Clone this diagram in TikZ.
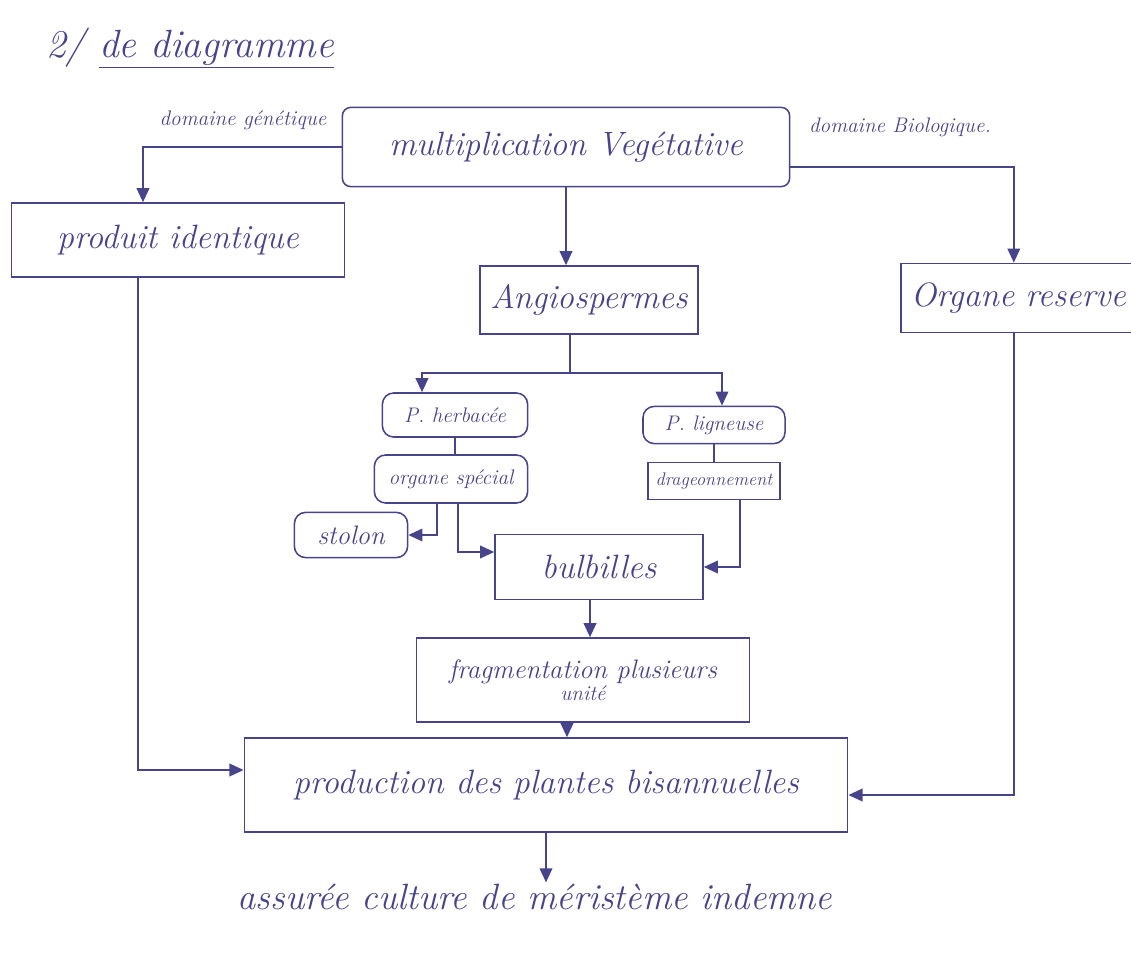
\documentclass[tikz,border=0pt]{standalone}
\usepackage{fontspec}
\usetikzlibrary{arrows.meta,calc}
\definecolor{ink}{RGB}{72,68,140}
\tikzset{
  trait/.style={draw=ink, line width=1.1pt},
  fleche/.style={trait, -{Triangle[length=10pt,width=9pt]}},
  boite/.style={trait, rectangle, inner sep=2pt, text=ink},
  bulle/.style={boite, rounded corners=8pt},
  ecrit/.style={text=ink, inner sep=1pt},
  gros/.style={font=\fontsize{24}{28}\selectfont\itshape},
  moyen/.style={font=\fontsize{19}{22}\selectfont\itshape},
  petit/.style={font=\fontsize{15}{18}\selectfont\itshape},
}
\begin{document}
\begin{tikzpicture}[x=0.025cm, y=-0.025cm] % 1 unit = 1 px of the scan
\useasboundingbox (0,0) rectangle (1131,979);
\clip (0,0) rectangle (1131,979);
% titre
\node[ecrit, font=\fontsize{28}{32}\selectfont\itshape] (titre) at (190,48) {2/ \underline{de diagramme}};
% boites
\node[boite, gros, rounded corners=6pt, minimum width=11.18cm, minimum height=1.98cm] (mv) at (566,147) {multiplication Vegétative};
\node[boite, gros, minimum width=8.33cm, minimum height=1.85cm] (pi) at (178,240) {produit identique};
\node[boite, gros, anchor=west, text width=6cm, inner xsep=0.25cm, minimum height=1.73cm, align=left] (org) at (900,298) {Organe reserve};
\node[boite, gros, minimum width=5.45cm, minimum height=1.7cm] (an) at (589,300) {Angiospermes};
\node[bulle, petit, minimum width=3.63cm, minimum height=1.1cm] (ph) at (455,415) {P. herbacée};
\node[bulle, petit, minimum width=3.55cm, minimum height=0.93cm] (pl) at (714,425) {P. ligneuse};
\node[bulle, petit, minimum width=3.83cm, minimum height=1.2cm] (os) at (451,479) {organe spécial};
\node[boite, font=\fontsize{13}{15}\selectfont\itshape, minimum width=3.3cm, minimum height=0.93cm] (dr) at (714,481) {drageonnement};
\node[bulle, moyen, minimum width=2.83cm, minimum height=1.13cm] (st) at (351,535) {stolon};
\node[boite, gros, minimum width=5.2cm, minimum height=1.63cm] (bu) at (599,567) {bulbilles};
\node[boite, moyen, minimum width=8.33cm, minimum height=2.1cm, align=center] (fr) at (583,680) {fragmentation plusieurs\\[-6pt]{\fontsize{15}{17}\selectfont unité}};
\node[boite, gros, minimum width=15.08cm, minimum height=2.35cm] (pr) at (546,785) {production des plantes bisannuelles};
\node[ecrit, font=\fontsize{26}{30}\selectfont\itshape] (as) at (535,897) {assurée culture de méristème indemne};
% etiquettes des deux branches
\node[ecrit, petit] (dg) at (243,120) {domaine génétique};
\node[ecrit, petit] (db) at (900,127) {domaine Biologique.};
% liaisons
\draw[fleche] (mv.west) -| ([xshift=-0.875cm]pi.north);
\draw[fleche] ([yshift=-0.5cm]mv.east) -| ([xshift=-0.425cm]org.north);
\draw[fleche] ([xshift=-1cm]pi.south) |- ([yshift=0.375cm]pr.west);
\draw[fleche] ([xshift=-0.425cm]org.south) |- ([yshift=-0.25cm]pr.east);
\draw[fleche] (mv.south) -- (mv.south |- an.north);
\coordinate (fourche) at ($(an.south)+(-19,38)$);
\draw[trait] (an.south -| fourche) -- (fourche);
\draw[fleche] (fourche) -| ([xshift=-0.825cm]ph.north);
\draw[fleche] (fourche) -| ([xshift=0.2cm]pl.north);
\draw[trait] (ph.south) -- (ph.south |- os.north);
\draw[trait] (pl.south) -- (pl.south |- dr.north);
\draw[fleche] ([xshift=-0.35cm]os.south) |- (st.east);
\draw[fleche] ([xshift=0.175cm]os.south) |- ([yshift=0.375cm]bu.west);
\draw[fleche] ([xshift=0.65cm]dr.south) |- (bu.east);
\draw[fleche] ([xshift=-0.225cm]bu.south) -- ([xshift=-0.225cm]bu.south |- fr.north);
\draw[fleche] ([xshift=-0.4cm]fr.south) -- ([xshift=-0.4cm]fr.south |- pr.north);
\draw[fleche] (pr.south) -- (pr.south |- as.north);
\end{tikzpicture}
\end{document}
